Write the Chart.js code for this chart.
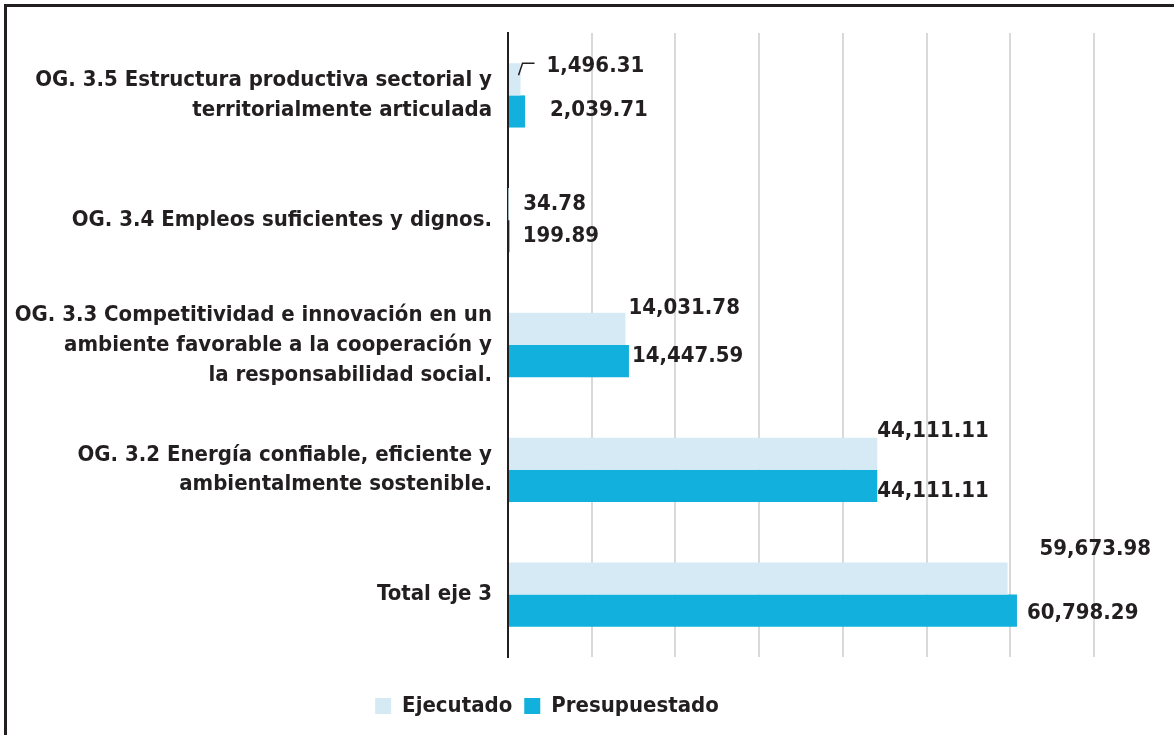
<!DOCTYPE html>
<html>
<head>
<meta charset="utf-8">
<script src="https://cdn.jsdelivr.net/npm/chart.js@4.4.1/dist/chart.umd.min.js"></script>
<style>
  html, body { margin:0; padding:0; background:#fff; overflow:hidden; }
  #frame { position:absolute; left:4px; top:4px; width:1400px; height:1000px; border:3px solid #231f20; box-sizing:border-box; }
  #wrap { position:absolute; left:0; top:0; width:1174px; height:735px; }
</style>
</head>
<body>
<div id="frame"></div>
<div id="wrap"><canvas id="chart"></canvas></div>
<script>
// ── Data ───────────────────────────────────────────────────
const categories = [
    ['OG. 3.5 Estructura productiva sectorial y', 'territorialmente articulada'],
    ['OG. 3.4 Empleos suficientes y dignos.'],
    ['OG. 3.3 Competitividad e innovación en un', 'ambiente favorable a la cooperación y', 'la responsabilidad social.'],
    ['OG. 3.2 Energía confiable, eficiente y', 'ambientalmente sostenible.'],
    ['Total eje 3']
];
const ejecutado     = [1496.31, 34.78, 14031.78, 44111.11, 59673.98];
const presupuestado = [2039.71, 199.89, 14447.59, 44111.11, 60798.29];
const seriesNames   = ['Ejecutado', 'Presupuestado'];

// label nudges [dx, dy] from the bar end, per dataset / category
const labelNudge = [
    [[26,-13],[15,0],[3,-21],[0,-22],[32,-29]],
    [[25,-1],[13,0],[3,-5],[0,5],[10,3]]
];

const FONT = "'DejaVu Sans Condensed', 'Liberation Sans Narrow', sans-serif";
const INK  = '#231f20';

const fmt = v => v.toLocaleString('en-US', { minimumFractionDigits: 2, maximumFractionDigits: 2 });

// ── Value labels ───────────────────────────────────────────
const valueLabels = {
    id: 'valueLabels',
    afterDatasetsDraw(chart) {
        const ctx = chart.ctx;
        ctx.save();
        ctx.font = 'bold 22px ' + FONT;
        ctx.fillStyle = INK;
        ctx.textAlign = 'left';
        ctx.textBaseline = 'middle';
        chart.data.datasets.forEach((ds, di) => {
            const meta = chart.getDatasetMeta(di);
            meta.data.forEach((bar, i) => {
                const [dx, dy] = labelNudge[di][i];
                ctx.fillText(fmt(ds.data[i]), bar.x + dx, bar.y + dy);
            });
        });
        // small leader line for the first (tiny) bar
        const b = chart.getDatasetMeta(0).data[0];
        ctx.strokeStyle = INK;
        ctx.lineWidth = 1.5;
        ctx.beginPath();
        ctx.moveTo(b.x - 2, b.y - 4);
        ctx.lineTo(b.x + 2, b.y - 16);
        ctx.lineTo(b.x + 14, b.y - 16);
        ctx.stroke();
        ctx.restore();
    }
};

// ── Chart ──────────────────────────────────────────────────
new Chart(document.getElementById('chart'), {
    type: 'bar',
    data: {
        labels: categories,
        datasets: [
            { label: seriesNames[0], data: ejecutado,     backgroundColor: '#d5eaf5' },
            { label: seriesNames[1], data: presupuestado, backgroundColor: '#12b0dc' }
        ]
    },
    options: {
        indexAxis: 'y',
        responsive: true, maintainAspectRatio: false,
        animation: false,
        categoryPercentage: 0.515,
        barPercentage: 1,
        layout: { padding: { top: 33, right: 80, bottom: 8, left: 0 } },
        plugins: {
            legend: {
                position: 'bottom',
                labels: {
                    color: INK, boxWidth: 16, boxHeight: 16, padding: 12,
                    font: { family: FONT, size: 22, weight: 'bold' }
                }
            },
            tooltip: { enabled: false }
        },
        scales: {
            x: {
                min: 0, max: 70000,
                afterFit: s => { s.height = 26; },
                ticks: { display: false, stepSize: 10000 },
                grid: { color: c => c.index === 0 ? 'rgba(0,0,0,0)' : '#d9d9d9', lineWidth: 2, drawTicks: false },
                border: { display: false }
            },
            y: {
                afterFit: s => { s.width = 508; },
                ticks: {
                    color: INK, padding: 16,
                    font: { family: FONT, size: 22, weight: 'bold', lineHeight: 1.36 }
                },
                grid: { display: false, drawTicks: false },
                border: { display: true, color: INK, width: 2 }
            }
        }
    },
    plugins: [valueLabels]
});
</script>
</body>
</html>
